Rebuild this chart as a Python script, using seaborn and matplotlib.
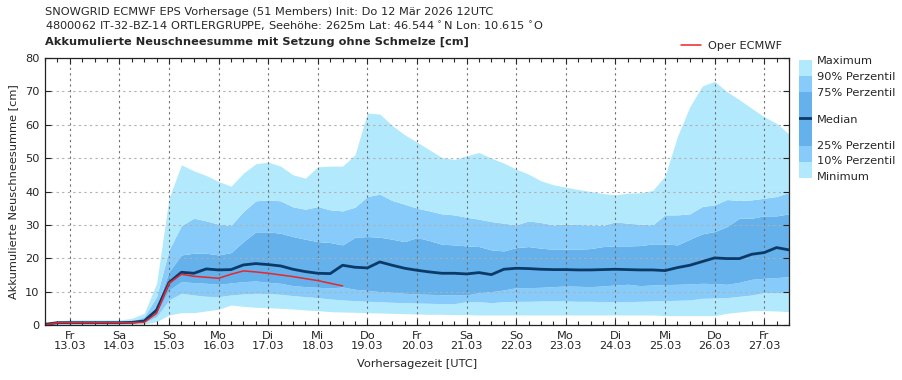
import numpy as np
import pandas as pd
import seaborn as sns
import matplotlib.pyplot as plt
import matplotlib.dates as mdates

# forecast steps (hours after init), 6-hourly
init_time = pd.Timestamp("2026-03-12 12:00")
hours = list(range(0, 361, 6))

val_max = [0, 1.2, 1.5, 1.5, 1.5, 1.5, 1.5, 2.0, 3.5, 12.5,
           38.0, 48.0, 46.2, 44.8, 43.0, 41.6, 45.5, 48.3, 48.8, 47.6,
           45.0, 44.0, 47.4, 47.6, 47.6, 51.0, 63.5, 63.2, 59.8, 57.0,
           54.8, 52.5, 50.2, 49.6, 50.7, 51.7, 50.0, 48.5, 46.7, 45.2,
           43.2, 42.0, 41.3, 40.6, 40.0, 39.4, 39.0, 39.5, 39.6, 40.3,
           44.6, 56.5, 65.4, 71.6, 73.0, 69.9, 67.5, 64.9, 62.4, 60.4, 57.2]
val_p90 = [0, 0.9, 1.0, 1.0, 1.0, 1.0, 1.0, 1.2, 2.5, 8.5,
           22.5, 29.8, 32.0, 31.2, 30.2, 29.9, 34.0, 37.2, 37.5, 37.2,
           35.4, 34.7, 35.5, 34.5, 34.2, 35.3, 38.5, 39.2, 37.3, 36.2,
           35.0, 34.2, 33.3, 33.0, 32.3, 31.7, 31.0, 30.5, 30.0, 31.2,
           30.7, 30.0, 30.3, 30.1, 30.0, 29.9, 30.9, 30.5, 30.2, 30.0,
           33.0, 33.0, 33.3, 35.5, 36.0, 37.6, 37.3, 37.5, 38.0, 38.5, 39.7]
val_p75 = [0, 0.8, 0.8, 0.8, 0.8, 0.8, 0.8, 1.0, 1.8, 5.5,
           16.0, 21.0, 21.5, 21.5, 21.0, 21.7, 25.0, 27.9, 27.9, 27.5,
           26.5, 25.7, 25.0, 24.7, 24.0, 26.3, 26.5, 26.3, 25.7, 25.0,
           26.2, 25.3, 24.2, 24.0, 23.7, 23.5, 22.5, 22.2, 23.2, 23.5,
           23.0, 22.7, 22.7, 22.7, 22.9, 23.5, 23.7, 23.7, 23.8, 24.3,
           24.3, 24.0, 25.7, 27.3, 28.0, 29.5, 32.0, 32.0, 32.7, 32.7, 33.3]
val_median = [0.2, 0.7, 0.7, 0.7, 0.7, 0.7, 0.7, 0.8, 1.2, 4.5,
              12.7, 15.8, 15.5, 16.8, 16.5, 16.6, 18.0, 18.4, 18.1, 17.7,
              16.7, 16.0, 15.5, 15.4, 17.9, 17.3, 17.1, 18.9, 17.9, 17.0,
              16.4, 15.9, 15.5, 15.5, 15.3, 15.7, 15.1, 16.7, 17.0, 16.9,
              16.7, 16.6, 16.6, 16.5, 16.5, 16.6, 16.7, 16.6, 16.5, 16.5,
              16.3, 17.2, 17.9, 19.0, 20.1, 19.9, 19.9, 21.2, 21.7, 23.2, 22.5]
val_p25 = [0, 0.5, 0.6, 0.6, 0.6, 0.6, 0.6, 0.6, 1.0, 3.5,
           10.5, 13.0, 12.7, 12.5, 12.2, 12.6, 13.0, 13.2, 12.8, 12.5,
           11.8, 11.5, 11.3, 11.1, 11.4, 10.7, 10.4, 10.0, 9.8, 9.5,
           9.3, 9.2, 9.1, 9.0, 9.0, 9.7, 10.0, 10.5, 11.2, 11.2,
           11.3, 11.5, 11.7, 11.6, 11.5, 11.7, 12.0, 12.2, 11.8, 12.0,
           12.1, 12.2, 12.3, 12.5, 12.4, 12.2, 12.8, 13.7, 14.0, 14.2, 14.5]
val_p10 = [0, 0.3, 0.4, 0.4, 0.4, 0.4, 0.4, 0.4, 0.7, 2.5,
           7.5, 9.5, 9.0, 8.6, 8.5, 9.0, 9.3, 9.5, 9.4, 9.2,
           8.8, 8.5, 8.2, 7.8, 7.5, 7.3, 7.1, 7.0, 6.8, 6.7,
           6.6, 6.5, 6.4, 6.4, 7.0, 7.0, 6.7, 7.0, 7.1, 7.1,
           7.2, 7.2, 7.2, 7.1, 7.1, 7.0, 7.0, 7.0, 7.1, 7.2,
           7.3, 7.4, 7.5, 8.0, 8.1, 8.2, 8.6, 9.0, 9.7, 9.7, 9.7]
val_min = [0, 0.1, 0.1, 0.1, 0.1, 0.1, 0.1, 0.2, 0.3, 1.0,
           3.0, 3.7, 3.7, 4.2, 4.7, 6.0, 5.6, 5.3, 5.2, 5.0,
           4.8, 4.5, 4.3, 4.0, 3.9, 3.8, 3.7, 3.6, 3.5, 3.4,
           3.3, 3.2, 3.2, 3.1, 3.1, 3.0, 3.0, 3.0, 3.0, 3.0,
           3.0, 3.0, 3.0, 3.0, 3.0, 3.0, 3.0, 3.0, 3.0, 3.0,
           2.8, 2.8, 2.8, 2.8, 2.8, 3.5, 3.9, 4.3, 4.3, 4.2, 4.0]

# deterministic run only goes to +144h
oper_hours = list(range(0, 145, 6))
val_oper = [0, 0.7, 0.7, 0.7, 0.7, 0.7, 0.7, 0.7, 0.8, 3.5,
            12.5, 15.2, 14.6, 14.3, 14.0, 15.2, 16.2, 15.9, 15.5, 15.0,
            14.5, 13.9, 13.3, 12.5, 11.7]

day_labels = ["Fr\n13.03", "Sa\n14.03", "So\n15.03", "Mo\n16.03", "Di\n17.03",
              "Mi\n18.03", "Do\n19.03", "Fr\n20.03", "Sa\n21.03", "So\n22.03",
              "Mo\n23.03", "Di\n24.03", "Mi\n25.03", "Do\n26.03", "Fr\n27.03"]
legend_labels = ["Maximum", "90% Perzentil", "75% Perzentil", "Median",
                 "25% Perzentil", "10% Perzentil", "Minimum"]

c_outer = "#b3e9fd"
c_mid = "#86cbfa"
c_inner = "#64b1eb"
c_median = "#0c3a68"
c_oper = "#e8262b"
fs = 8.2

df = pd.DataFrame({
    "time": init_time + pd.to_timedelta(hours, unit="h"),
    "min": val_min, "p10": val_p10, "p25": val_p25, "median": val_median,
    "p75": val_p75, "p90": val_p90, "max": val_max,
})
df_oper = pd.DataFrame({
    "time": init_time + pd.to_timedelta(oper_hours, unit="h"),
    "oper": val_oper,
})

sns.set_style("ticks")
plt.rcParams["font.family"] = ["DejaVu Sans"]

fig = plt.figure(figsize=(9.03, 3.80), dpi=100)
ax = fig.add_axes([45 / 903, 1 - 325 / 380, 744 / 903, 267 / 380])

# percentile bands
band_pairs = [("min", "p10", c_outer), ("p10", "p25", c_mid), ("p25", "p75", c_inner),
              ("p75", "p90", c_mid), ("p90", "max", c_outer)]
for lo, hi, col in band_pairs:
    ax.fill_between(df["time"], df[lo], df[hi], color=col, lw=0, zorder=1)

sns.lineplot(data=df, x="time", y="median", color=c_median, lw=2.0, ax=ax,
             legend=False, zorder=4)
sns.lineplot(data=df_oper, x="time", y="oper", color=c_oper, lw=1.1, ax=ax,
             label="Oper ECMWF", zorder=5)

ax.set_xlim(df["time"].iloc[0], df["time"].iloc[-1])
ax.set_ylim(0, 80)
ax.set_yticks(range(0, 81, 10))

days = pd.date_range("2026-03-13", periods=len(day_labels), freq="D")
ax.set_xticks(days)
ax.set_xticklabels(day_labels, fontsize=fs, linespacing=1.0)
ax.xaxis.set_minor_locator(mdates.HourLocator(byhour=[6, 12, 18]))
ax.tick_params(axis="both", which="major", direction="in", length=4, width=0.8,
               top=True, right=True, labelsize=fs, pad=4)
ax.tick_params(axis="x", which="minor", direction="in", length=3, width=0.8, top=True)

ax.grid(axis="x", which="major", color="#707070", ls=(0, (2, 3)), lw=0.8, zorder=2)
ax.grid(axis="y", which="major", color="#b0b0b0", ls=(0, (2, 3)), lw=0.8, zorder=2)
ax.set_axisbelow(False)
for sp in ax.spines.values():
    sp.set_linewidth(0.9)
    sp.set_color("#222222")
    sp.set_zorder(6)

ax.set_xlabel("Vorhersagezeit [UTC]", fontsize=fs, labelpad=6)
ax.set_ylabel("Akkumulierte Neuschneesumme [cm]", fontsize=fs, labelpad=5)

ax.legend(loc="lower right", bbox_to_anchor=(1.0, 1.0), frameon=False,
          fontsize=fs, handlelength=1.8, handletextpad=0.6, borderaxespad=0.2)

# titles
fig.text(45 / 903, 1 - 12 / 380,
         "SNOWGRID ECMWF EPS Vorhersage (51 Members) Init: Do 12 M\u00e4r 2026 12UTC",
         fontsize=fs, va="center", ha="left")
fig.text(45 / 903, 1 - 26 / 380,
         "4800062 IT-32-BZ-14 ORTLERGRUPPE, Seeh\u00f6he: 2625m Lat: 46.544$\\,^\\circ$N Lon: 10.615$\\,^\\circ$O",
         fontsize=fs, va="center", ha="left")
fig.text(45 / 903, 1 - 42 / 380,
         "Akkumulierte Neuschneesumme mit Setzung ohne Schmelze [cm]",
         fontsize=fs, fontweight="bold", va="center", ha="left")

# band legend on the right
lax = fig.add_axes([799 / 903, 1 - 178 / 380, 13 / 903, 118 / 380])
edges = [0, 16, 32, 58, 86, 102, 118]
for lo, hi, col in zip(edges[:-1], edges[1:], [c_outer, c_mid, c_inner, c_inner, c_mid, c_outer]):
    lax.axhspan(hi, lo, color=col, lw=0)
lax.axhline(58, color=c_median, lw=2.0)
lax.set_ylim(118, 0)
lax.set_xlim(0, 1)
lax.axis("off")
label_pos = [1, 17, 33, 60, 86, 101, 117]
for lab, yp in zip(legend_labels, label_pos):
    lax.text(1.35, yp, lab, fontsize=fs, va="center", ha="left",
             transform=lax.get_yaxis_transform())

fig.savefig("out.png", dpi=100)
